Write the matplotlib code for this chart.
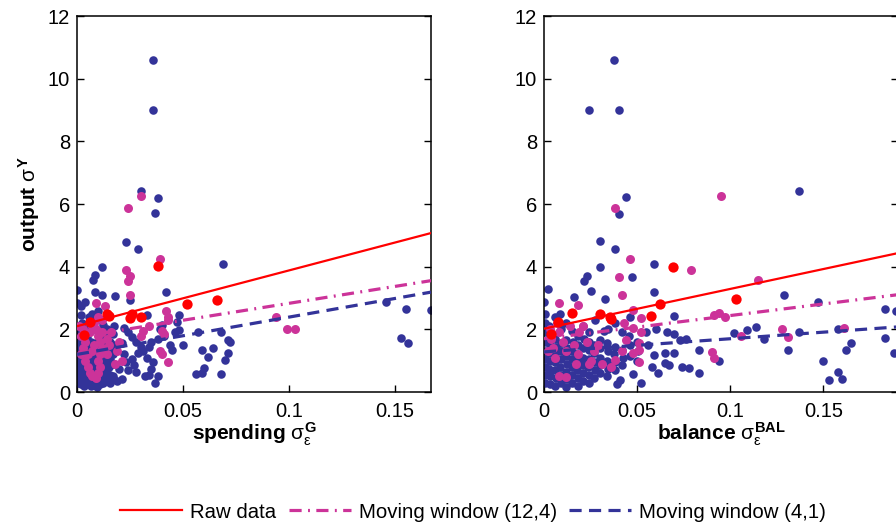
import numpy as np
import matplotlib
matplotlib.use('Agg')
import matplotlib.pyplot as plt
from matplotlib.lines import Line2D

plt.rcParams['font.family'] = ['Liberation Sans', 'DejaVu Sans']
plt.rcParams['mathtext.fontset'] = 'custom'
plt.rcParams['mathtext.rm'] = 'Liberation Sans'
plt.rcParams['mathtext.it'] = 'Liberation Sans'
plt.rcParams['mathtext.bf'] = 'Liberation Sans:bold'

# ---- data ----
blue_left = [
    (0.036, 10.6), (0.036, 9.0), (0.030, 6.4), (0.038, 6.2), (0.037, 5.7), (0.023, 4.8), (0.029, 4.56),
    (0.012, 4.0), (0.069, 4.08), (0.042, 3.2), (0.0, 3.26), (0.0085, 3.73), (0.0076, 3.57), (0.0085, 3.2),
    (0.012, 3.1), (0.018, 3.05), (0.004, 2.87), (0.0, 2.84), (0.025, 2.95), (0.002, 2.75), (0.002, 2.46),
    (0.048, 2.45), (0.047, 2.25), (0.040, 2.15), (0.048, 1.97), (0.057, 1.9), (0.068, 1.9), (0.071, 1.66),
    (0.072, 1.6), (0.044, 1.5), (0.050, 1.5), (0.059, 1.34), (0.064, 1.4), (0.062, 1.12), (0.071, 1.24),
    (0.070, 1.02), (0.060, 0.77), (0.056, 0.57), (0.059, 0.6), (0.068, 0.57), (0.037, 0.29), (0.146, 2.87),
    (0.155, 2.65), (0.167, 2.62), (0.153, 1.72), (0.156, 1.57), (0.033, 2.45), (0.031, 1.3), (0.034, 1.45),
    (0.035, 1.6), (0.038, 1.7), (0.033, 1.1), (0.036, 0.95), (0.035, 0.75), (0.034, 0.55), (0.032, 0.5),
    (0.038, 0.5), (0.028, 0.65), (0.027, 0.85), (0.026, 1.05), (0.029, 1.25), (0.030, 1.45), (0.028, 1.6),
    (0.026, 1.75), (0.024, 1.9), (0.022, 2.05), (0.021, 1.55), (0.022, 1.2), (0.023, 0.95), (0.020, 0.75),
    (0.021, 0.4), (0.019, 0.35), (0.017, 0.45), (0.024, 0.7), (0.039, 2.0), (0.041, 1.8), (0.045, 1.35),
    (0.046, 1.9),
    (0.0005, 0.3), (0.0003, 0.5), (0.0006, 0.7), (0.0004, 0.9), (0.0007, 1.1), (0.0003, 1.3), (0.0005, 1.5),
    (0.0006, 1.7), (0.0004, 1.9), (0.0008, 2.1),
    (0.0020, 0.25), (0.0022, 0.45), (0.0018, 0.65), (0.0021, 0.85), (0.0019, 1.05), (0.0023, 1.25),
    (0.0020, 1.45), (0.0017, 1.65), (0.0022, 1.85), (0.0024, 2.2),
    (0.0035, 0.2), (0.0033, 0.4), (0.0037, 0.6), (0.0034, 0.8), (0.0036, 1.0), (0.0032, 1.2), (0.0038, 1.4),
    (0.0035, 1.6), (0.0036, 2.0),
    (0.0050, 0.3), (0.0052, 0.5), (0.0048, 0.7), (0.0051, 0.9), (0.0049, 1.1), (0.0053, 1.3), (0.0050, 1.5),
    (0.0047, 1.75), (0.0055, 2.4),
    (0.0065, 0.2), (0.0063, 0.4), (0.0067, 0.6), (0.0064, 0.8), (0.0066, 1.0), (0.0062, 1.2), (0.0068, 1.4),
    (0.0065, 1.6), (0.0070, 2.5),
    (0.0080, 0.25), (0.0082, 0.45), (0.0078, 0.65), (0.0081, 0.85), (0.0079, 1.05), (0.0083, 1.25),
    (0.0080, 1.5), (0.0077, 2.05), (0.0084, 2.35),
    (0.0095, 0.15), (0.0097, 0.35), (0.0093, 0.55), (0.0096, 0.75), (0.0094, 0.95), (0.0098, 1.15),
    (0.0095, 1.35), (0.0092, 1.6), (0.0097, 1.9), (0.0100, 2.6),
    (0.0110, 0.25), (0.0112, 0.5), (0.0108, 0.7), (0.0111, 0.9), (0.0109, 1.1), (0.0113, 1.3), (0.0110, 1.55),
    (0.0114, 2.3),
    (0.0125, 0.3), (0.0127, 0.55), (0.0123, 0.8), (0.0126, 1.0), (0.0124, 1.25), (0.0128, 1.5), (0.0125, 1.8),
    (0.0122, 2.15),
    (0.0140, 0.35), (0.0142, 0.6), (0.0138, 0.85), (0.0141, 1.1), (0.0139, 1.35), (0.0143, 1.65), (0.0140, 2.0),
    (0.0155, 0.3), (0.0157, 0.55), (0.0153, 0.8), (0.0156, 1.05), (0.0154, 1.3), (0.0158, 1.6), (0.0155, 1.9),
    (0.0170, 0.5), (0.0172, 0.9), (0.0168, 1.2), (0.0171, 1.5), (0.0169, 1.85), (0.0173, 2.1),
]

magenta_left = [
    (0.030, 6.25), (0.024, 5.87), (0.039, 4.26), (0.023, 3.9), (0.025, 3.7), (0.024, 3.55), (0.025, 3.1),
    (0.042, 2.6), (0.043, 2.4), (0.043, 2.3), (0.040, 1.95), (0.041, 1.85), (0.039, 1.3), (0.040, 1.2),
    (0.043, 0.95), (0.030, 1.8), (0.031, 1.95), (0.034, 2.1), (0.013, 2.75), (0.009, 2.85), (0.020, 1.6),
    (0.019, 1.3), (0.021, 1.0), (0.018, 0.9), (0.094, 2.4), (0.099, 2.0), (0.103, 2.0), (0.016, 1.9),
    (0.014, 1.7), (0.012, 2.3), (0.010, 2.4),
    (0.003, 2.0), (0.002, 1.8), (0.004, 1.6), (0.003, 1.4), (0.005, 1.2), (0.004, 1.0), (0.005, 0.8),
    (0.006, 0.6), (0.007, 0.5), (0.009, 0.45), (0.010, 0.6), (0.011, 0.8), (0.010, 1.0), (0.011, 1.2),
    (0.012, 1.4), (0.011, 1.6), (0.010, 1.8), (0.009, 2.0), (0.008, 1.5), (0.007, 1.3), (0.006, 1.9),
    (0.007, 2.1), (0.012, 1.9), (0.015, 1.5), (0.014, 1.2), (0.001, 2.1), (0.002, 1.2), (0.008, 2.2),
]

red_left = [
    (0.038, 4.02), (0.066, 2.95), (0.052, 2.8), (0.014, 2.5), (0.015, 2.43), (0.025, 2.36), (0.026, 2.5),
    (0.030, 2.4), (0.006, 2.24), (0.0033, 1.82),
]

blue_right = [
    (0.0377, 10.6), (0.024, 9.0), (0.040, 9.0), (0.044, 6.22), (0.040, 5.68), (0.137, 6.4), (0.030, 4.82),
    (0.038, 4.55), (0.030, 4.0), (0.059, 4.08), (0.047, 3.68), (0.023, 3.7), (0.0215, 3.55), (0.002, 3.28),
    (0.025, 3.22), (0.016, 3.04), (0.033, 2.96), (0.059, 3.2), (0.0, 2.86), (0.129, 3.1), (0.147, 2.87),
    (0.183, 2.65), (0.189, 2.6), (0.070, 2.44), (0.032, 1.96), (0.066, 1.9), (0.070, 1.85), (0.076, 1.7),
    (0.073, 1.66), (0.102, 1.88), (0.109, 1.98), (0.114, 2.07), (0.118, 1.69), (0.137, 1.9), (0.158, 2.0),
    (0.165, 1.56), (0.162, 1.34), (0.183, 1.72), (0.188, 1.24), (0.131, 1.34), (0.083, 1.34), (0.065, 1.24),
    (0.070, 1.24), (0.059, 1.18), (0.150, 0.99), (0.094, 0.99), (0.078, 0.77), (0.083, 0.6), (0.158, 0.64),
    (0.160, 0.41), (0.153, 0.38), (0.048, 0.57), (0.052, 0.29), (0.039, 0.25), (0.041, 0.38), (0.058, 0.8),
    (0.061, 0.6), (0.065, 0.93), (0.067, 0.86), (0.074, 0.8), (0.055, 1.9), (0.060, 2.0), (0.056, 1.5),
    (0.0005, 0.3), (0.0003, 0.55), (0.0006, 0.8), (0.0004, 1.05), (0.0007, 1.3), (0.0003, 1.6), (0.0005, 1.9),
    (0.0006, 2.2), (0.0004, 2.5),
    (0.0030, 0.25), (0.0032, 0.5), (0.0028, 0.75), (0.0031, 1.0), (0.0029, 1.25), (0.0033, 1.5), (0.0030, 1.75),
    (0.0027, 2.1),
    (0.0060, 0.2), (0.0062, 0.45), (0.0058, 0.7), (0.0061, 0.95), (0.0059, 1.2), (0.0063, 1.45), (0.0060, 1.7),
    (0.0057, 2.4),
    (0.0090, 0.3), (0.0092, 0.55), (0.0088, 0.8), (0.0091, 1.05), (0.0089, 1.3), (0.0093, 1.55), (0.0090, 2.0),
    (0.0087, 2.5),
    (0.0120, 0.15), (0.0122, 0.4), (0.0118, 0.65), (0.0121, 0.9), (0.0119, 1.15), (0.0123, 1.4), (0.0120, 1.65),
    (0.0117, 2.2),
    (0.0150, 0.3), (0.0152, 0.55), (0.0148, 0.8), (0.0151, 1.05), (0.0149, 1.3), (0.0153, 1.6), (0.0150, 1.95),
    (0.0180, 0.2), (0.0182, 0.45), (0.0178, 0.7), (0.0181, 0.95), (0.0179, 1.2), (0.0183, 1.5), (0.0180, 1.8),
    (0.0210, 0.35), (0.0212, 0.6), (0.0208, 0.85), (0.0211, 1.1), (0.0209, 1.4), (0.0213, 1.7), (0.0210, 2.1),
    (0.0240, 0.3), (0.0242, 0.55), (0.0238, 0.8), (0.0241, 1.05), (0.0239, 1.35), (0.0243, 1.6), (0.0240, 1.9),
    (0.0270, 0.45), (0.0272, 0.7), (0.0268, 0.95), (0.0271, 1.25), (0.0269, 1.5), (0.0273, 2.3),
    (0.0300, 0.6), (0.0302, 0.85), (0.0298, 1.1), (0.0301, 1.4), (0.0299, 1.65),
    (0.0340, 0.5), (0.0342, 0.75), (0.0338, 1.0), (0.0341, 1.3), (0.0339, 1.55), (0.0343, 2.0),
    (0.0380, 0.7), (0.0382, 0.95), (0.0378, 1.2), (0.0381, 1.45), (0.0379, 2.2),
    (0.0420, 0.85), (0.0422, 1.1), (0.0418, 1.35), (0.0421, 1.9),
    (0.0460, 1.15), (0.0462, 1.5), (0.0458, 1.8), (0.0461, 2.4),
    (0.0500, 1.0), (0.0502, 1.3), (0.0498, 1.6),
]

magenta_right = [
    (0.095, 6.25), (0.038, 5.87), (0.046, 4.25), (0.040, 3.68), (0.042, 3.1), (0.079, 3.9), (0.115, 3.57),
    (0.008, 2.85), (0.018, 2.77), (0.048, 2.62), (0.052, 2.36), (0.043, 2.2), (0.048, 2.04), (0.052, 1.92),
    (0.044, 1.66), (0.051, 1.56), (0.051, 1.34), (0.042, 1.31), (0.048, 1.24), (0.051, 0.96), (0.091, 2.46),
    (0.094, 2.52), (0.097, 2.39), (0.106, 1.79), (0.128, 2.01), (0.131, 1.75), (0.161, 2.04), (0.090, 1.28),
    (0.091, 1.08), (0.038, 1.02), (0.036, 0.8), (0.024, 0.89), (0.017, 0.89), (0.008, 0.51), (0.012, 0.48),
    (0.003, 2.0), (0.004, 1.7), (0.005, 1.4), (0.006, 1.1), (0.008, 1.9), (0.010, 1.6), (0.012, 1.3),
    (0.014, 2.1), (0.016, 1.5), (0.018, 1.2), (0.019, 1.9), (0.021, 2.1), (0.023, 1.6), (0.025, 1.0),
    (0.027, 1.3), (0.029, 1.5), (0.031, 0.9), (0.002, 1.3), (0.007, 2.2),
]

red_right = [
    (0.0038, 1.85), (0.0075, 2.23), (0.015, 2.52), (0.030, 2.49), (0.0355, 2.39), (0.0360, 2.32),
    (0.0575, 2.43), (0.062, 2.8), (0.069, 4.0), (0.103, 2.96),
]

# fitted lines: (intercept, slope)
fit_left = {'raw': (2.1, 17.8), 'mw124': (1.75, 10.8), 'mw41': (1.2, 11.9)}
fit_right = {'raw': (2.02, 12.7), 'mw124': (1.7, 7.4), 'mw41': (1.28, 4.2)}

xmax_left = 0.167
xmax_right = 0.19
xlabels = [r'spending $\sigma_{\varepsilon}^{\mathbf{G}}$', r'balance $\sigma_{\varepsilon}^{\mathbf{BAL}}$']
legend_labels = ['Raw data', 'Moving window (12,4)', 'Moving window (4,1)']

c_blue = '#333399'
c_mag = '#cc3399'
c_red = '#ff0000'

fig = plt.figure(figsize=(8.96, 5.28), dpi=100)
ax1 = fig.add_axes([77/896, 136/528, 354/896, 376/528])
ax2 = fig.add_axes([544/896, 136/528, 354/896, 376/528])

panels = [(ax1, blue_left, magenta_left, red_left, fit_left, xmax_left, xlabels[0]),
          (ax2, blue_right, magenta_right, red_right, fit_right, xmax_right, xlabels[1])]

for ax, bl, mg, rd, fit, xmax, xlab in panels:
    bl = np.array(bl); mg = np.array(mg); rd = np.array(rd)
    ax.scatter(bl[:, 0], bl[:, 1], s=38, color=c_blue, linewidths=0, zorder=2)
    ax.scatter(mg[:, 0], mg[:, 1], s=42, color=c_mag, linewidths=0, zorder=3)
    xx = np.array([0, xmax])
    a, b = fit['mw41']
    ax.plot(xx, a + b * xx, color=c_blue, lw=2.3, dashes=(3.8, 2.3), zorder=4)
    a, b = fit['mw124']
    ax.plot(xx, a + b * xx, color=c_mag, lw=2.3, dashes=(3.8, 2.0, 0.6, 2.0), zorder=4)
    a, b = fit['raw']
    ax.plot(xx, a + b * xx, color=c_red, lw=1.6, zorder=5)
    ax.scatter(rd[:, 0], rd[:, 1], s=55, color=c_red, linewidths=0, zorder=6)

    ax.set_xlim(0, xmax)
    ax.set_ylim(0, 12)
    ax.set_xticks([0, 0.05, 0.1, 0.15])
    ax.set_xticklabels(['0', '0.05', '0.1', '0.15'])
    ax.set_yticks(range(0, 13, 2))
    ax.tick_params(direction='in', length=5, width=1, labelsize=14.5, right=True, top=False, pad=5)
    ax.tick_params(axis='x', pad=7)
    for sp in ax.spines.values():
        sp.set_linewidth(1.1)
    ax.set_xlabel(xlab, fontsize=15, fontweight='bold', labelpad=0)

ax1.set_ylabel(r'output $\sigma^{\mathbf{Y}}$', fontsize=15, fontweight='bold', labelpad=4)

leg_size = 14.7
handles = [Line2D([], [], color=c_red, lw=1.6),
           Line2D([], [], color=c_mag, lw=2.3, dashes=(3.8, 2.0, 0.6, 2.0)),
           Line2D([], [], color=c_blue, lw=2.3, dashes=(3.8, 2.3))]
fig.legend(handles, legend_labels,
           loc='center', bbox_to_anchor=(473/896, 16/528), ncol=3, frameon=False,
           handlelength=62 * 0.72 / leg_size, handletextpad=8 * 0.72 / leg_size,
           columnspacing=12 * 0.72 / leg_size, borderpad=0.2,
           prop={'family': 'Liberation Sans', 'size': leg_size})

plt.savefig('out.png', dpi=100)
